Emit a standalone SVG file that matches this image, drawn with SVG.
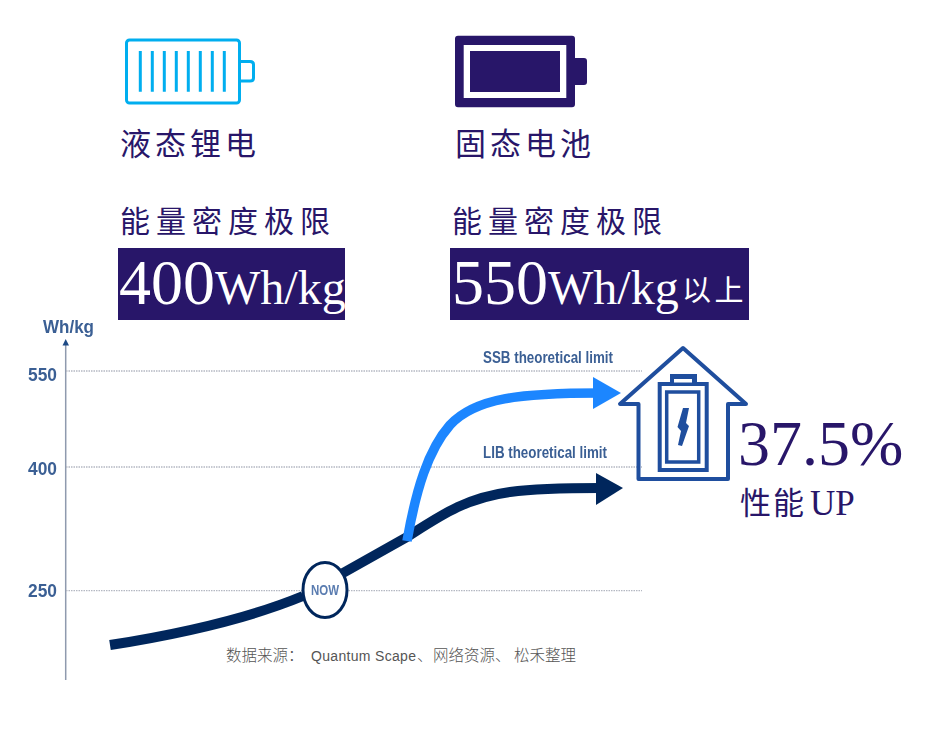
<svg xmlns="http://www.w3.org/2000/svg" width="946" height="731" viewBox="0 0 946 731">
<style>
.cjk{font-family:"Noto Sans CJK SC","Liberation Serif",sans-serif;font-weight:400;fill:#281669}
.num{font-family:"Liberation Serif","Noto Sans CJK SC",serif}
.lab{font-family:"Liberation Sans",Arial,sans-serif;font-weight:700;fill:#3a5f94}
.src{font-family:"Noto Sans CJK SC","Liberation Sans",sans-serif;font-weight:300;font-size:15.5px;fill:#555}
.grid{stroke:#b4b8c2;stroke-width:1.3;stroke-dasharray:1.5 1;fill:none}
.hs{fill:none;stroke:#1f4e9e}
</style>
<defs>
<filter id="soft" x="-5%" y="-5%" width="110%" height="110%"><feGaussianBlur stdDeviation="0.5"/></filter>
</defs>
<rect width="946" height="731" fill="#fff"/>
<g id="chart-axes" filter="url(#soft)">
<line x1="65.700" y1="344" x2="65.700" y2="680" stroke="#8f9aae" stroke-width="1.500"/>
<polygon points="65.700,339 62.500,345.500 69,345.500" fill="#1f4a85"/>
<line class="grid" x1="66" y1="371" x2="642" y2="371"/>
<line class="grid" x1="66" y1="467" x2="642" y2="467"/>
<line class="grid" x1="66" y1="590.700" x2="642" y2="590.700"/>
<text class="lab" x="43" y="332.500" font-size="18" textLength="51" lengthAdjust="spacingAndGlyphs">Wh/kg</text>
<text class="lab" x="28" y="381" font-size="18" textLength="29" lengthAdjust="spacingAndGlyphs">550</text>
<text class="lab" x="28" y="475" font-size="18" textLength="29" lengthAdjust="spacingAndGlyphs">400</text>
<text class="lab" x="28" y="597" font-size="18" textLength="29" lengthAdjust="spacingAndGlyphs">250</text>
<text class="lab" x="483" y="362.500" font-size="16" textLength="130" lengthAdjust="spacingAndGlyphs">SSB theoretical limit</text>
<text class="lab" x="483" y="457.500" font-size="16" textLength="124" lengthAdjust="spacingAndGlyphs">LIB theoretical limit</text>
</g>
<g id="connectors" filter="url(#soft)">
<path id="lib-curve" d="M110 645C180 634 245 620 303 596M343 573L407 537C440 516 465 498 510 492C540 488 570 488 600 488" fill="none" stroke="#04285c" stroke-width="10"/>
<polygon points="596,473 623,488 596,505" fill="#04285c"/>
<path id="ssb-curve" d="M407 541C416 490 428 450 450 425C475 398 520 393 600 393" fill="none" stroke="#1e86ff" stroke-width="9.500"/>
<polygon points="593,377 621,393 593,409" fill="#1e86ff"/>
</g>
<g id="now" filter="url(#soft)">
<ellipse cx="325" cy="590" rx="22" ry="27.500" fill="#fff" stroke="#04285c" stroke-width="3"/>
<text class="lab" x="311" y="595" font-size="14" textLength="28" lengthAdjust="spacingAndGlyphs" style="fill:#5a7cb0">NOW</text>
</g>
<g id="liquid-battery">
<rect x="126.500" y="40" width="113" height="63" rx="3" fill="#fff" stroke="#00aeef" stroke-width="3"/>
<path d="M240 61.500H250Q253.500 61.500 253.500 64.500V78Q253.500 81 250 81H240" fill="none" stroke="#00aeef" stroke-width="3"/>
<path d="M140.300 51V91.700M152.300 51V91.700M164.300 51V91.700M176.300 51V91.700M188.300 51V91.700M200.300 51V91.700M212.300 51V91.700M224.300 51V91.700" fill="none" stroke="#00aeef" stroke-width="3"/>
</g>
<g id="solid-battery">
<path d="M458 35.700H572Q575 35.700 575 38.700V58H584Q587 58 587 61V82Q587 85 584 85H575V104.300Q575 107.300 572 107.300H458Q455 107.300 455 104.300V38.700Q455 35.700 458 35.700Z" fill="#281669"/>
<rect x="463.700" y="45" width="102.600" height="53" fill="#fff"/>
<rect x="470" y="51" width="90" height="41" fill="#281669"/>
</g>
<g id="liquid-text">
<text class="cjk" x="120" y="155" font-size="31" letter-spacing="4">液态锂电</text>
<text class="cjk" x="120" y="232" font-size="30" letter-spacing="6">能量密度极限</text>
<rect x="118" y="248" width="227" height="72" fill="#281669"/>
<text class="num" x="119" y="304" font-size="64" fill="#fff">400<tspan font-size="48">Wh/kg</tspan></text>
</g>
<g id="solid-text">
<text class="cjk" x="455" y="155" font-size="31" letter-spacing="4">固态电池</text>
<text class="cjk" x="452" y="232" font-size="30" letter-spacing="6">能量密度极限</text>
<rect x="450" y="248" width="299" height="72" fill="#281669"/>
<text class="num" x="452" y="304" font-size="64" fill="#fff">550<tspan font-size="48">Wh/kg</tspan></text>
<text class="cjk" x="682" y="301" font-size="29" letter-spacing="3.500" style="fill:#fff">以上</text>
</g>
<g id="house-battery">
<path class="hs" stroke-width="4" stroke-linejoin="round" d="M683 348L620 404H638.500V479H728V404H746Z"/>
<rect class="hs" x="659.700" y="384" width="47" height="86" stroke-width="4"/>
<rect class="hs" x="666.700" y="392" width="32" height="70" stroke-width="3.500"/>
<path d="M670 384V374H697V384Z" fill="#1f4e9e"/>
<rect x="674" y="379" width="18" height="3.500" fill="#fff"/>
<polygon points="683,408 689,408 686,423 689,426 682,446 678,445 681,431 677.500,427" fill="#1f4e9e"/>
</g>
<g id="gain-text">
<text class="num" x="738" y="465" font-size="64" fill="#281669">37.5%</text>
<text class="cjk" x="740" y="514" font-size="31" letter-spacing="2">性能</text>
<text class="num" x="810" y="515" font-size="35" fill="#281669">UP</text>
</g>
<g id="source">
<text class="src" x="226" y="661">数据来源：</text>
<text class="src" x="311" y="661" font-size="14" style="font-family:'Liberation Sans','Noto Sans CJK SC',sans-serif;font-size:14px" textLength="105" lengthAdjust="spacing">Quantum Scape</text>
<text class="src" x="417" y="661">、</text>
<text class="src" x="433" y="661">网络资源、</text>
<text class="src" x="514" y="661">松禾整理</text>
</g>
</svg>
